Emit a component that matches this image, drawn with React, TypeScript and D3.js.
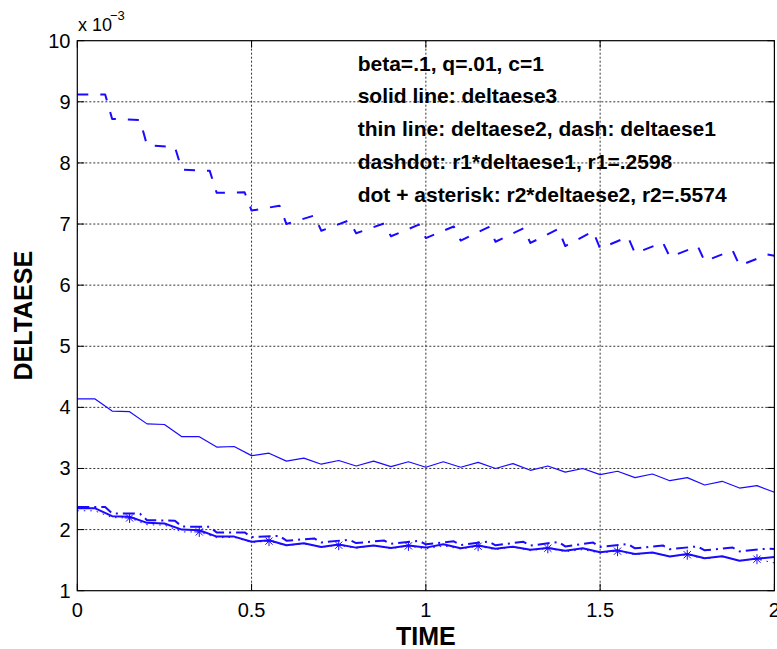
import React from "react";
import * as d3 from "d3";

// time grid for deltaese2 / deltaese3 (step 0.05)
const TIME = [0, 0.05, 0.1, 0.15, 0.2, 0.25, 0.3, 0.35, 0.4, 0.45, 0.5, 0.55, 0.6, 0.65, 0.7, 0.75, 0.8, 0.85, 0.9, 0.95, 1.0,
  1.05, 1.1, 1.15, 1.2, 1.25, 1.3, 1.35, 1.4, 1.45, 1.5, 1.55, 1.6, 1.65, 1.7, 1.75, 1.8, 1.85, 1.9, 1.95, 2.0];

// thin line: deltaese2 (x 1e-3)
const DELTAESE2 = [4.14, 4.14, 3.94, 3.93, 3.73, 3.72, 3.52, 3.52, 3.35, 3.36, 3.21, 3.25, 3.12, 3.17, 3.07, 3.13, 3.04, 3.12, 3.03, 3.11, 3.02,
  3.11, 3.02, 3.10, 3.00, 3.08, 2.97, 3.04, 2.94, 3.00, 2.90, 2.955, 2.85, 2.91, 2.80, 2.85, 2.73, 2.79, 2.68, 2.72, 2.61];

// solid line: deltaese3 (x 1e-3)
const DELTAESE3 = [2.35, 2.35, 2.22, 2.21, 2.11, 2.10, 2.00, 1.99, 1.885, 1.885, 1.80, 1.825, 1.745, 1.775, 1.715, 1.755, 1.705, 1.74, 1.70, 1.74, 1.705,
  1.76, 1.695, 1.74, 1.685, 1.72, 1.67, 1.70, 1.655, 1.695, 1.63, 1.66, 1.60, 1.625, 1.56, 1.60, 1.53, 1.565, 1.49, 1.525, 1.55];

// dash: deltaese1 (x 1e-3), vertices of its sawtooth
const TIME1 = [0, 0.08, 0.1, 0.18, 0.2, 0.28, 0.3, 0.38, 0.4, 0.48, 0.5, 0.58, 0.6, 0.68, 0.7, 0.78, 0.8, 0.88, 0.9, 0.98, 1.0,
  1.08, 1.1, 1.18, 1.2, 1.28, 1.3, 1.38, 1.4, 1.48, 1.5, 1.58, 1.6, 1.68, 1.7, 1.78, 1.8, 1.88, 1.9, 1.98, 2.0];
const DELTAESE1 = [9.12, 9.12, 8.72, 8.70, 8.29, 8.26, 7.89, 7.87, 7.51, 7.52, 7.22, 7.30, 7.00, 7.14, 6.89, 7.06, 6.85, 7.01, 6.80, 6.99, 6.77,
  6.96, 6.73, 6.95, 6.71, 6.93, 6.69, 6.92, 6.64, 6.88, 6.60, 6.79, 6.52, 6.70, 6.46, 6.64, 6.39, 6.57, 6.32, 6.50, 6.48];

const R1 = 0.2598;
const R2 = 0.5574;

// asterisk markers on r2*deltaese2
const MARK_TIMES = [0.15, 0.35, 0.55, 0.75, 0.95, 1.15, 1.35, 1.55, 1.75, 1.95];

const X_TICKS = [0, 0.5, 1, 1.5, 2];
const Y_TICKS = [1, 2, 3, 4, 5, 6, 7, 8, 9, 10];

const NOTES = [
  "beta=.1, q=.01, c=1",
  "solid line: deltaese3",
  "thin line: deltaese2, dash: deltaese1",
  "dashdot: r1*deltaese1, r1=.2598",
  "dot + asterisk: r2*deltaese2, r2=.5574",
];

const W = 777;
const H = 649;
const BLUE = "#1a0aff";
const FONT = "'Liberation Sans', Arial, Helvetica, sans-serif";

export default function App() {
  const x = d3.scaleLinear().domain([0, 2]).range([77.3, 774.4]);
  const y = d3.scaleLinear().domain([1, 10]).range([590.7, 40.7]);
  const [x0, x1] = x.range();
  const [y0, y1] = y.range();

  const line = d3.line<[number, number]>().x((d) => x(d[0])).y((d) => y(d[1]));

  const s2 = TIME.map((t, i) => [t, DELTAESE2[i]] as [number, number]);
  const s3 = TIME.map((t, i) => [t, DELTAESE3[i]] as [number, number]);
  const s1 = TIME1.map((t, i) => [t, DELTAESE1[i]] as [number, number]);
  const s1r = TIME1.map((t, i) => [t, R1 * DELTAESE1[i]] as [number, number]);
  const s2r = TIME.map((t, i) => [t, R2 * DELTAESE2[i]] as [number, number]);
  const marks = MARK_TIMES.map((t) => {
    const i = TIME.findIndex((v) => Math.abs(v - t) < 1e-9);
    return [t, R2 * DELTAESE2[i]] as [number, number];
  });

  const tickLen = 7;
  const ms = 5;

  return (
    <div style={{ position: "absolute", left: 0, top: 0 }}>
      <svg width={W} height={H} style={{ display: "block", background: "#fff" }}>
        <rect x={0} y={0} width={W} height={H} fill="#fff" />
        {/* grid */}
        <g stroke="#333" strokeWidth={1} strokeDasharray="2,2" fill="none">
          {X_TICKS.slice(1, -1).map((t) => (
            <line key={"gx" + t} x1={x(t)} x2={x(t)} y1={y0} y2={y1} />
          ))}
          {Y_TICKS.slice(1, -1).map((t) => (
            <line key={"gy" + t} x1={x0} x2={x1} y1={y(t)} y2={y(t)} />
          ))}
        </g>
        {/* ticks */}
        <g stroke="#000" strokeWidth={1}>
          {X_TICKS.map((t) => (
            <g key={"tx" + t}>
              <line x1={x(t)} x2={x(t)} y1={y0} y2={y0 - tickLen} />
              <line x1={x(t)} x2={x(t)} y1={y1} y2={y1 + tickLen} />
            </g>
          ))}
          {Y_TICKS.map((t) => (
            <g key={"ty" + t}>
              <line x1={x0} x2={x0 + tickLen} y1={y(t)} y2={y(t)} />
              <line x1={x1} x2={x1 - tickLen} y1={y(t)} y2={y(t)} />
            </g>
          ))}
        </g>
        {/* series */}
        <g fill="none" stroke={BLUE} strokeLinejoin="round">
          <path d={line(s2) || ""} strokeWidth={1.2} />
          <path d={line(s1) || ""} strokeWidth={2} strokeDasharray="11,12" />
          <path d={line(s2r) || ""} strokeWidth={1} strokeDasharray="1.5,5" />
          <path d={line(s1r) || ""} strokeWidth={2} strokeDasharray="12,5,2,5" />
          <path d={line(s3) || ""} strokeWidth={2} />
          {marks.map((d, i) => {
            const cx = x(d[0]);
            const cy = y(d[1]);
            return (
              <g key={"m" + i} strokeWidth={1}>
                <line x1={cx - ms} x2={cx + ms} y1={cy} y2={cy} />
                <line x1={cx} x2={cx} y1={cy - ms} y2={cy + ms} />
                <line x1={cx - ms * 0.72} x2={cx + ms * 0.72} y1={cy - ms * 0.72} y2={cy + ms * 0.72} />
                <line x1={cx - ms * 0.72} x2={cx + ms * 0.72} y1={cy + ms * 0.72} y2={cy - ms * 0.72} />
              </g>
            );
          })}
        </g>
        {/* box */}
        <rect x={x0} y={y1} width={x1 - x0} height={y0 - y1} fill="none" stroke="#000" strokeWidth={1.2} />
        {/* tick labels */}
        <g fontFamily={FONT} fontSize={20} fill="#000">
          {X_TICKS.map((t) => (
            <text key={"lx" + t} x={x(t)} y={617} textAnchor="middle">
              {d3.format("~g")(t)}
            </text>
          ))}
          {Y_TICKS.map((t) => (
            <text key={"ly" + t} x={70.5} y={y(t)} dy="0.35em" textAnchor="end">
              {t}
            </text>
          ))}
          <text x={78} y={30.5} fontSize={18}>x 10</text>
          <text x={110} y={20} fontSize={13}>−3</text>
        </g>
        {/* annotations */}
        <g fontFamily={FONT} fontSize={21} fontWeight="bold" fill="#000">
          {NOTES.map((s, i) => (
            <text key={"n" + i} x={357.7} y={70.7 + i * 32.7}>
              {s}
            </text>
          ))}
        </g>
        {/* axis labels */}
        <text x={x(1)} y={645} textAnchor="middle" fontFamily={FONT} fontSize={25} fontWeight="bold">
          TIME
        </text>
        <text
          transform={`translate(32,${(y0 + y1) / 2}) rotate(-90)`}
          textAnchor="middle"
          fontFamily={FONT}
          fontSize={25}
          fontWeight="bold"
        >
          DELTAESE
        </text>
      </svg>
    </div>
  );
}
